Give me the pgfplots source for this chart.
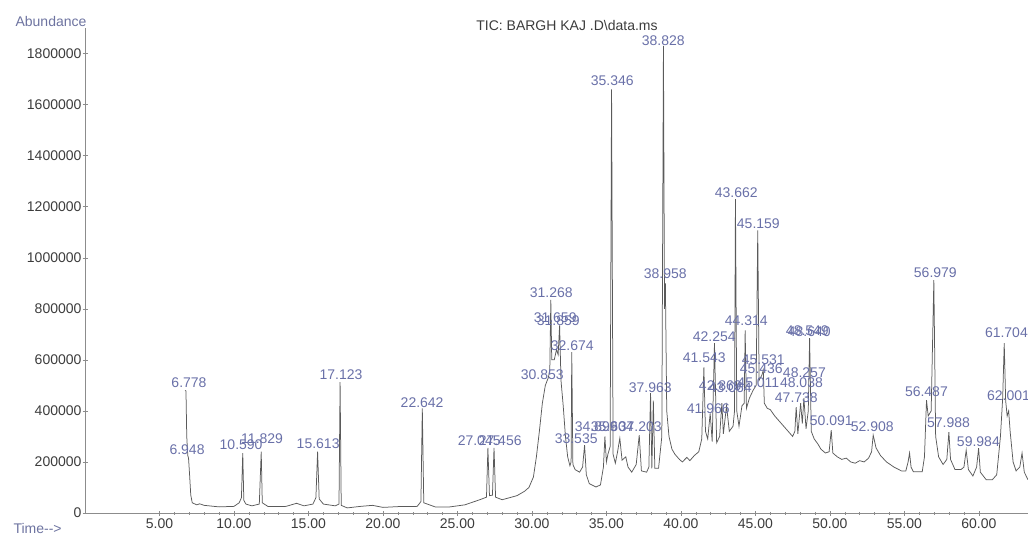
\documentclass[border=0pt]{standalone}
\usepackage{fontspec}
\setmainfont{Liberation Sans}
\usepackage{pgfplots}
\pgfplotsset{compat=1.18}
\usepackage{pgfplotstable}
\definecolor{trace}{RGB}{90,90,90}
\definecolor{lab}{RGB}{105,112,168}
\definecolor{axisgray}{RGB}{140,140,140}
\definecolor{txt}{RGB}{60,60,60}

\pgfplotstableread{
t v
6.72 480000
6.778 478000
6.83 300000
6.90 225000
6.95 215000
7.02 150000
7.10 70000
7.20 40000
7.5 32000
7.7 36000
8.0 30000
9.0 24000
10.0 26000
10.35 40000
10.5 60000
10.59 235000
10.66 50000
10.8 35000
11.2 28000
11.7 35000
11.829 240000
11.9 40000
12.3 25000
13.5 26000
14.2 38000
14.7 28000
15.3 35000
15.5 60000
15.613 240000
15.72 55000
16.0 35000
16.8 28000
17.05 35000
17.123 513000
17.2 30000
17.6 20000
18.5 26000
19.3 30000
20.0 22000
21.0 25000
22.3 26000
22.55 45000
22.642 410000
22.74 40000
23.5 24000
24.5 24000
25.5 32000
26.0 42000
26.5 52000
26.95 62000
27.045 255000
27.15 68000
27.35 70000
27.456 255000
27.56 62000
28.0 52000
28.5 60000
29.0 68000
29.5 85000
29.8 100000
30.1 141000
30.3 220000
30.5 320000
30.7 430000
30.9 500000
31.1 530000
31.2 560000
31.268 835000
31.33 600000
31.5 600000
31.65 640000
31.76 620000
31.859 735000
31.95 520000
32.1 420000
32.25 300000
32.4 220000
32.55 185000
32.63 200000
32.674 630000
32.75 190000
32.9 170000
33.2 160000
33.4 180000
33.535 266000
33.65 150000
33.85 115000
34.3 102000
34.6 110000
34.8 180000
34.899 300000
35.0 200000
35.1 230000
35.25 260000
35.346 1660000
35.45 230000
35.6 195000
35.75 240000
35.9 293000
36.05 207000
36.3 220000
36.45 180000
36.7 160000
37.0 190000
37.203 305000
37.35 165000
37.7 160000
37.85 180000
37.963 470000
38.05 175000
38.15 440000
38.25 175000
38.5 175000
38.72 300000
38.828 1830000
38.9 800000
38.958 900000
39.05 400000
39.2 300000
39.4 250000
39.6 230000
39.9 210000
40.1 200000
40.4 218000
40.6 205000
40.9 225000
41.2 240000
41.4 290000
41.543 570000
41.65 320000
41.8 290000
41.966 390000
42.1 280000
42.254 665000
42.4 275000
42.6 300000
42.75 430000
42.85 310000
43.064 420000
43.25 320000
43.5 340000
43.6 400000
43.662 1230000
43.75 400000
43.9 340000
44.1 420000
44.25 430000
44.314 715000
44.4 410000
44.6 450000
44.85 481000
45.05 500000
45.159 1107000
45.25 520000
45.436 540000
45.531 560000
45.6 430000
45.8 410000
46.0 405000
46.3 380000
46.6 360000
46.9 340000
47.2 320000
47.5 300000
47.65 320000
47.738 415000
47.85 310000
48.038 430000
48.15 350000
48.257 450000
48.4 330000
48.55 400000
48.64 685000
48.75 320000
48.95 290000
49.2 270000
49.4 250000
49.7 235000
49.95 240000
50.091 325000
50.2 235000
50.5 220000
50.8 210000
51.1 215000
51.4 200000
51.7 195000
52.0 205000
52.3 200000
52.6 215000
52.8 240000
52.908 305000
53.1 255000
53.4 225000
53.8 200000
54.3 180000
54.8 165000
55.1 165000
55.25 200000
55.35 235000
55.45 180000
55.6 162000
56.2 162000
56.35 220000
56.487 442000
56.6 380000
56.8 400000
56.979 912000
57.1 300000
57.3 220000
57.6 190000
57.85 210000
57.988 317000
58.1 210000
58.4 170000
58.8 170000
59.0 180000
59.15 246000
59.3 170000
59.6 145000
59.85 180000
59.984 254000
60.1 160000
60.5 130000
60.9 130000
61.2 150000
61.45 300000
61.6 450000
61.704 665000
61.8 440000
61.9 380000
62.001 400000
62.1 320000
62.3 200000
62.5 165000
62.75 180000
62.9 235000
63.05 160000
63.3 130000
}\tictable

\pgfplotstableread{
t v lab
6.98 509000 6.778
6.85 247000 6.948
10.48 266000 10.590
11.89 290000 11.829
15.65 270000 15.613
17.19 540000 17.123
22.63 434000 22.642
26.46 282000 27.045
27.87 282000 27.456
30.69 540000 30.853
31.30 865000 31.268
31.56 767000 31.659
31.77 755000 31.859
32.71 657000 32.674
32.97 293000 33.535
34.32 337000 34.899
35.39 337000 35.604
37.27 337000 37.203
35.39 1694000 35.346
37.94 489000 37.963
38.82 1851000 38.828
38.95 939000 38.958
41.57 610000 41.543
41.84 407000 41.966
42.24 689000 42.254
42.65 497000 42.869
43.32 489000 43.064
43.72 1256000 43.662
44.39 755000 44.314
45.20 1135000 45.159
45.20 509000 45.011
45.53 599000 45.531
45.40 567000 45.436
47.75 450000 47.738
48.09 509000 48.038
48.29 548000 48.257
48.49 716000 48.549
48.62 712000 48.640
50.10 360000 50.091
52.85 337000 52.908
56.48 477000 56.487
57.08 943000 56.979
57.96 352000 57.988
59.97 278000 59.984
61.85 708000 61.704
61.99 458000 62.001
}\labtable

\begin{document}
\begin{tikzpicture}[x=1pt,y=1pt]
\path[use as bounding box] (0,0) rectangle (1028,539);
\begin{axis}[
  at={(85pt,26pt)}, anchor=south west,
  scale only axis, width=943pt, height=485pt,
  xmin=0, xmax=63.3, ymin=0, ymax=1900000,
  axis x line*=bottom, axis y line*=left,
  axis line style={axisgray, -},
  every tick/.style={axisgray},
  xtick={5,10,...,60}, minor x tick num=4,
  ytick={0,200000,...,1800000},
  tick align=center,
  major tick length=5pt, minor tick length=3pt,
  scaled y ticks=false, scaled x ticks=false,
  tick label style={font=\fontsize{14}{16}\selectfont, text=txt},
  xticklabel style={/pgf/number format/.cd, fixed, fixed zerofill, precision=2, assume math mode=true},
  yticklabel style={xshift=2.5pt, /pgf/number format/.cd, fixed, precision=0, 1000 sep={}, assume math mode=true},
  clip mode=individual,
]
\addplot[trace, line width=0.75pt, mark=none] table[x=t,y=v] {\tictable};
\addplot[draw=none, mark=none, nodes near coords, point meta=explicit symbolic,
  nodes near coords align={center},
  every node near coord/.append style={anchor=center, text=lab, inner sep=0pt, font=\fontsize{14}{16}\selectfont}]
  table[x=t,y=v,meta=lab] {\labtable};
\end{axis}
\node[text=txt, font=\fontsize{14}{16}\selectfont] at (567,514) {TIC: BARGH KAJ .D\textbackslash data.ms};
\node[text=lab!80!gray, font=\fontsize{14}{16}\selectfont] at (51,518) {Abundance};
\node[text=lab!80!gray, font=\fontsize{14}{16}\selectfont, anchor=west] at (10,11) {Time-{}-{}>};
\end{tikzpicture}
\end{document}
